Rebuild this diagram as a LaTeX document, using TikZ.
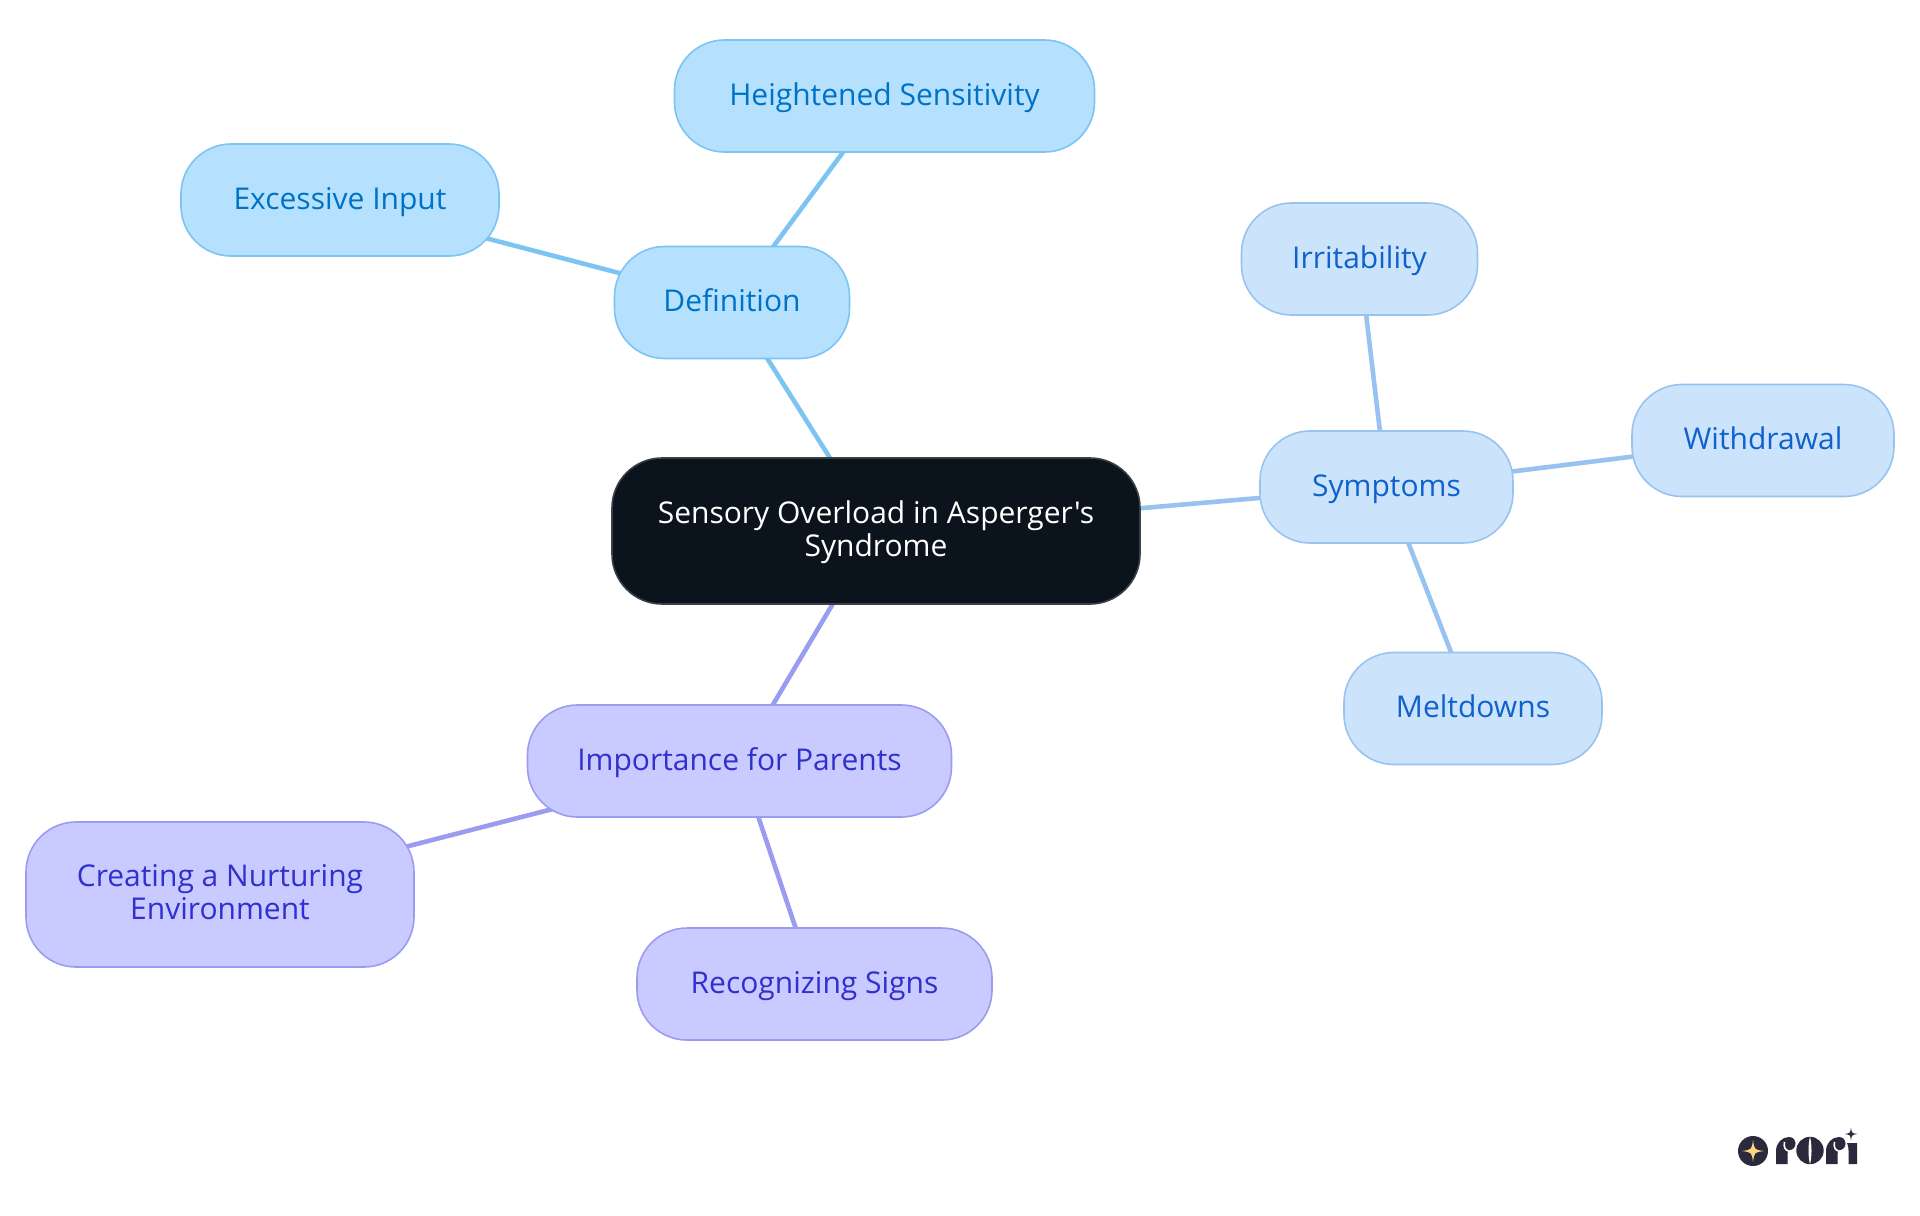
\documentclass[tikz,border=0pt]{standalone}
\usepackage{fontspec}
\newfontfamily\pillfont{Open Sans}
\usetikzlibrary{backgrounds}
\definecolor{rootfill}{HTML}{0B131C}
\definecolor{rootline}{HTML}{3A4048}
\definecolor{bluefill}{HTML}{B5E1FF}
\definecolor{blueline}{HTML}{7CC4F2}
\definecolor{bluetext}{HTML}{0072C6}
\definecolor{skyfill}{HTML}{CCE3FC}
\definecolor{skyline}{HTML}{98C3F0}
\definecolor{skytext}{HTML}{0F62CC}
\definecolor{purfill}{HTML}{C9CAFF}
\definecolor{purline}{HTML}{9A9CF0}
\definecolor{purtext}{HTML}{3030CC}
\definecolor{logodark}{HTML}{2A2A3C}
\definecolor{logostar}{HTML}{FFD580}
\newcommand{\oneline}[1]{\raisebox{-9bp}[0pt][0pt]{#1}}
\newcommand{\twolines}[2]{\raisebox{8bp}[0pt][0pt]{\makebox[0pt]{#1}}\raisebox{-25bp}[0pt][0pt]{\makebox[0pt]{#2}}}
\newcommand{\logostarpath}[3]{(#1,#2-#3) .. controls (#1+0.12*#3,#2-0.12*#3) .. (#1+#3,#2) .. controls (#1+0.12*#3,#2+0.12*#3) .. (#1,#2+#3) .. controls (#1-0.12*#3,#2+0.12*#3) .. (#1-#3,#2) .. controls (#1-0.12*#3,#2-0.12*#3) .. (#1,#2-#3) -- cycle}
\tikzset{
  pill/.style={rounded corners=50bp, inner sep=0pt, line width=1.6bp, font=\pillfont\fontsize{30bp}{33bp}\selectfont},
  bluepill/.style={pill, fill=bluefill, draw=blueline, text=bluetext},
  skypill/.style={pill, fill=skyfill, draw=skyline, text=skytext},
  purpill/.style={pill, fill=purfill, draw=purline, text=purtext},
  rootpill/.style={pill, fill=rootfill, draw=rootline, text=white},
  blueedge/.style={draw=blueline, line width=4.6bp},
  skyedge/.style={draw=skyline, line width=4.6bp},
  puredge/.style={draw=purline, line width=4.6bp},
}
\begin{document}
\begin{tikzpicture}[x=1bp,y=-1bp]
\useasboundingbox (0,0) rectangle (1920,1215);
\node[rootpill, minimum width=528bp, minimum height=146bp] (root) at (876,531) {\twolines{Sensory Overload in Asperger's}{Syndrome}};
\node[bluepill, minimum width=235bp, minimum height=112bp] (def) at (732,302.5) {\oneline{Definition}};
\node[bluepill, minimum width=420bp, minimum height=112bp] (hei) at (884.5,96) {\oneline{Heightened Sensitivity}};
\node[bluepill, minimum width=318bp, minimum height=112bp] (exc) at (340,200) {\oneline{Excessive Input}};
\node[skypill, minimum width=253bp, minimum height=112bp] (sym) at (1386.5,487) {\oneline{Symptoms}};
\node[skypill, minimum width=236bp, minimum height=112bp] (irr) at (1359.5,259) {\oneline{Irritability}};
\node[skypill, minimum width=262bp, minimum height=112bp] (wit) at (1763,440.5) {\oneline{Withdrawal}};
\node[skypill, minimum width=258bp, minimum height=112bp] (mel) at (1473,708.5) {\oneline{Meltdowns}};
\node[purpill, minimum width=424bp, minimum height=112bp] (imp) at (739.5,761) {\oneline{Importance for Parents}};
\node[purpill, minimum width=388bp, minimum height=145bp] (cre) at (220,894.5) {\twolines{Creating a Nurturing}{Environment}};
\node[purpill, minimum width=355bp, minimum height=112bp] (rec) at (814.5,984) {\oneline{Recognizing Signs}};
\begin{scope}[on background layer]
\draw[blueedge] (root.center) -- (def.center);
\draw[blueedge] (def.center) -- (hei.center);
\draw[blueedge] (def.center) -- (exc.center);
\draw[skyedge] (root.center) -- (sym.center);
\draw[skyedge] (sym.center) -- (irr.center);
\draw[skyedge] (sym.center) -- (wit.center);
\draw[skyedge] (sym.center) -- (mel.center);
\draw[puredge] (root.center) -- (imp.center);
\draw[puredge] (imp.center) -- (cre.center);
\draw[puredge] (imp.center) -- (rec.center);
\end{scope}
% logo
\fill[logodark] (1753,1151) circle (15);
\fill[logostar] \logostarpath{1753}{1151}{11};
\fill[logodark] (1776,1164) -- (1776,1151) .. controls (1776,1143) and (1782,1137) .. (1789,1137) .. controls (1793,1137) and (1795.5,1140) .. (1795.5,1143.5) .. controls (1795.5,1147) and (1793,1150) .. (1789.5,1150) .. controls (1788,1150) and (1787.5,1152) .. (1787.5,1154) -- (1787.5,1164) -- cycle;
\draw[white, line width=1.6bp] (1784.5,1142) .. controls (1783.5,1147) and (1785,1150) .. (1788.5,1151);
\fill[logodark] (1810,1150.5) circle (13.7);
\fill[white] (1810,1136.5) .. controls (1808,1145) and (1808,1156) .. (1810,1164.5) .. controls (1812,1156) and (1812,1145) .. (1810,1136.5) -- cycle;
\fill[logodark] (1826,1164) -- (1826,1151) .. controls (1826,1143) and (1832,1137) .. (1839,1137) .. controls (1843,1137) and (1845.5,1140) .. (1845.5,1143.5) .. controls (1845.5,1147) and (1843,1150) .. (1839.5,1150) .. controls (1838,1150) and (1837.5,1152) .. (1837.5,1154) -- (1837.5,1164) -- cycle;
\draw[white, line width=1.6bp] (1834.5,1142) .. controls (1833.5,1147) and (1835,1150) .. (1838.5,1151);
\fill[logodark] (1847,1143) -- (1857,1143) -- (1857,1164) -- (1848.5,1164) -- (1848.5,1150) .. controls (1848.5,1147) and (1848,1145) .. (1847,1143) -- cycle;
\fill[logodark] \logostarpath{1851}{1134}{6.5};
\end{tikzpicture}
\end{document}
